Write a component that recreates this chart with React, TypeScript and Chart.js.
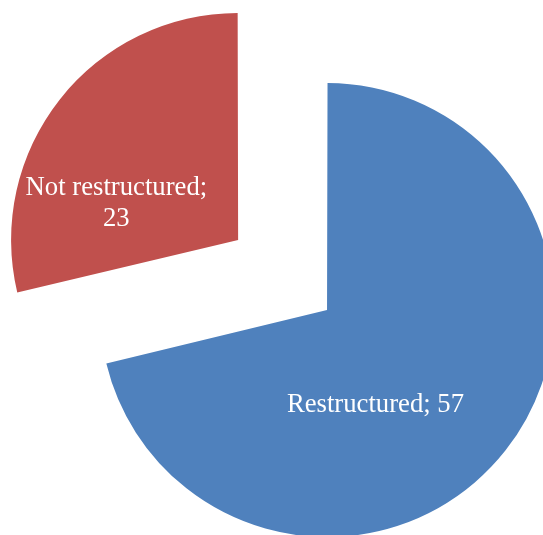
import React, { useEffect, useRef } from "react";
import { Chart, registerables } from "chart.js";

Chart.register(...registerables);

const categories = ["Restructured", "Not restructured"];
const values = [57, 23];
const colors = ["#4F81BD", "#C0504D"];
// whether the label breaks onto a second line after the separator
const labelBreak = [false, true];
// explode offsets (Chart.js arc offset units)
const explode = [12.4, 440.4];
// label placement within each slice: fraction along the slice angle, fraction of radius
const labelAngleFrac = [0.596, 0.292];
const labelRadiusFrac = [0.468, 0.56];

const labelPlugin = {
  id: "sliceLabels",
  afterDatasetsDraw(chart: any) {
    const ctx = chart.ctx as CanvasRenderingContext2D;
    const meta = chart.getDatasetMeta(0);
    ctx.save();
    ctx.fillStyle = "#FFFFFF";
    ctx.font = '26.7px "Liberation Serif", "Times New Roman", serif';
    ctx.textAlign = "center";
    ctx.textBaseline = "middle";
    meta.data.forEach((arc: any, i: number) => {
      const x = arc.x, y = arc.y, startAngle = arc.startAngle, endAngle = arc.endAngle;
      const outerRadius = arc.outerRadius;
      const circumference = arc.circumference;
      const off = ((arc.options && arc.options.offset) || 0) / 4;
      const half = (startAngle + endAngle) / 2;
      const cx = x + Math.cos(half) * off;
      const cy = y + Math.sin(half) * off;
      const fix = 1 - Math.sin(Math.min(Math.PI, circumference || 0));
      const R = outerRadius + off * fix;
      const a = startAngle + labelAngleFrac[i] * (endAngle - startAngle);
      const lx = cx + Math.cos(a) * R * labelRadiusFrac[i];
      const ly = cy + Math.sin(a) * R * labelRadiusFrac[i];
      const lines = labelBreak[i]
        ? [categories[i] + ";", String(values[i])]
        : [categories[i] + "; " + values[i]];
      const lh = 31;
      lines.forEach((t, k) => {
        ctx.fillText(t, lx, ly + (k - (lines.length - 1) / 2) * lh);
      });
    });
    ctx.restore();
  },
};

export default function App() {
  const ref = useRef<HTMLCanvasElement | null>(null);
  useEffect(() => {
    if (!ref.current) return;
    const chart = new Chart(ref.current, {
      type: "pie",
      data: {
        labels: categories,
        datasets: [
          {
            data: values,
            backgroundColor: colors,
            borderWidth: 0,
            offset: explode,
          } as any,
        ],
      },
      options: {
        animation: false,
        responsive: false,
        devicePixelRatio: 1,
        cutout: "0%",
        radius: 224,
        layout: { padding: { left: 106.2, top: 81.2, right: 0, bottom: 0 } },
        plugins: {
          legend: { display: false },
          tooltip: { enabled: false },
        },
      } as any,
      plugins: [labelPlugin],
    });
    return () => chart.destroy();
  }, []);
  return (
    <div style={{ position: "absolute", left: 0, top: 0, width: 543, height: 535 }}>
      <canvas ref={ref} width={543} height={535} style={{ display: "block", width: 543, height: 535 }} />
    </div>
  );
}
